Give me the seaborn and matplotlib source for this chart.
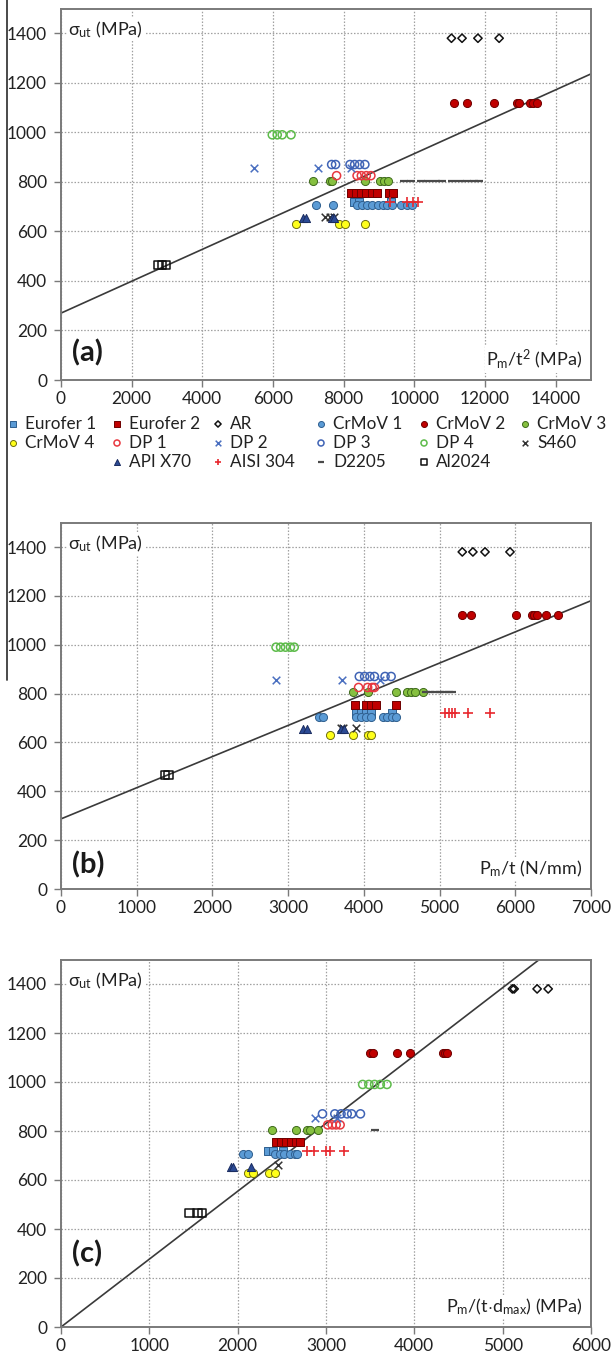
import matplotlib
matplotlib.use("Agg")
import numpy as np
import matplotlib.pyplot as plt
import seaborn as sns

# ---------------------------------------------------------------- data
materials = ["Eurofer 1", "Eurofer 2", "AR", "CrMoV 1", "CrMoV 2", "CrMoV 3",
             "CrMoV 4", "DP 1", "DP 2", "DP 3", "DP 4", "S460",
             "API X70", "AISI 304", "D2205", "Al2024"]
# ultimate tensile strength of each material (MPa)
uts = [720, 755, 1380, 705, 1120, 805, 630, 825, 855, 870, 990, 660, 655, 720, 805, 465]

# (a) Pm / t^2 (MPa)
a_eurofer1 = [8280, 8430, 9330]
a_eurofer2 = [8220, 8360, 8500, 8640, 8790, 8930, 9290, 9410]
a_ar = [11050, 11350, 11800, 12400]
a_crmov1 = [7220, 7700, 8390, 8530, 8670, 8810, 8960, 9100, 9240, 9380, 9620, 9790, 9930]
a_crmov2 = [11130, 11500, 12260, 12900, 12960, 13260, 13360, 13470]
a_crmov3 = [7120, 7600, 7680, 8600, 9030, 9130, 9250]
a_crmov4 = [6660, 7880, 8030, 8590]
a_dp1 = [7800, 8380, 8500, 8640, 8770]
a_dp2 = [5450, 7270, 8200]
a_dp3 = [7660, 7770, 8180, 8310, 8450, 8600]
a_dp4 = [5980, 6120, 6260, 6510]
a_s460 = [7470, 7620, 7740]
a_apix70 = [6840, 6920, 7680, 7740]
a_aisi304 = [9300, 9800, 9950, 10100]
a_d2205 = [9700, 9900, 10200, 10400, 10600, 10780, 11080, 11280, 11480, 11700, 11830]
a_al2024 = [2760, 2870, 2980]

# (b) Pm / t (N/mm)
b_eurofer1 = [3890, 3960, 4030, 4100, 4370]
b_eurofer2 = [3880, 4030, 4100, 4160, 4430]
b_ar = [5300, 5440, 5600, 5930]
b_crmov1 = [3410, 3460, 3890, 3960, 4030, 4100, 4250, 4310, 4370, 4430]
b_crmov2 = [5290, 5410, 6010, 6220, 6250, 6290, 6400, 6570]
b_crmov3 = [3860, 4060, 4420, 4570, 4620, 4680, 4780]
b_crmov4 = [3550, 3860, 4050, 4090]
b_dp1 = [3930, 4050, 4110, 4140]
b_dp2 = [2840, 3710, 4210]
b_dp3 = [3940, 4010, 4080, 4140, 4280, 4360]
b_dp4 = [2840, 2900, 2965, 3030, 3080]
b_s460 = [3700, 3730, 3900]
b_apix70 = [3200, 3250, 3700, 3740]
b_aisi304 = [5070, 5120, 5170, 5210, 5370, 5660]
b_d2205 = [4820, 4880, 4940, 5000, 5060, 5120, 5170]
b_al2024 = [1370, 1420]

# (c) Pm / (t * d_max) (MPa)
c_eurofer1 = [2340, 2400, 2510]
c_eurofer2 = [2430, 2490, 2550, 2600, 2660, 2710]
c_ar = [5110, 5130, 5390, 5515]
c_crmov1 = [2060, 2115, 2420, 2475, 2530, 2590, 2645, 2675]
c_crmov2 = [3500, 3530, 3800, 3955, 4320, 4350, 4375]
c_crmov3 = [2390, 2660, 2780, 2820, 2910]
c_crmov4 = [2115, 2170, 2360, 2420]
c_dp1 = [3020, 3070, 3115, 3160]
c_dp2 = [2880, 3130]
c_dp3 = [2960, 3100, 3170, 3240, 3290, 3390]
c_dp4 = [3415, 3485, 3550, 3615, 3690]
c_s460 = [2460]
c_apix70 = [1925, 1945, 2150]
c_aisi304 = [2780, 2860, 3000, 3045, 3200]
c_d2205 = [3550]
c_al2024 = [1455, 1545, 1600]

# linear correlations (slope, intercept)
fit_a = (0.0644, 270.0)
fit_b = (0.1276, 287.0)
fit_c = (0.2770, 0.0)

panel_a = [a_eurofer1, a_eurofer2, a_ar, a_crmov1, a_crmov2, a_crmov3, a_crmov4, a_dp1,
           a_dp2, a_dp3, a_dp4, a_s460, a_apix70, a_aisi304, a_d2205, a_al2024]
panel_b = [b_eurofer1, b_eurofer2, b_ar, b_crmov1, b_crmov2, b_crmov3, b_crmov4, b_dp1,
           b_dp2, b_dp3, b_dp4, b_s460, b_apix70, b_aisi304, b_d2205, b_al2024]
panel_c = [c_eurofer1, c_eurofer2, c_ar, c_crmov1, c_crmov2, c_crmov3, c_crmov4, c_dp1,
           c_dp2, c_dp3, c_dp4, c_s460, c_apix70, c_aisi304, c_d2205, c_al2024]

# ---------------------------------------------------------------- style
sns.set_style("ticks")
plt.rcParams["font.family"] = ["Lato", "DejaVu Sans"]
plt.rcParams["mathtext.fontset"] = "custom"
plt.rcParams["mathtext.rm"] = "Lato"
plt.rcParams["mathtext.it"] = "Lato:italic"
plt.rcParams["mathtext.bf"] = "Lato:bold"

BLUE = "#5B9BD5"
DKRED = "#C00000"
styles = {
    "Eurofer 1": dict(marker="s", s=30, color=BLUE, edgecolor="#2F5F8F", linewidth=0.7),
    "Eurofer 2": dict(marker="s", s=34, color=DKRED, edgecolor="#6E0000", linewidth=0.7),
    "AR": dict(marker="D", s=18, facecolor="none", edgecolor="#111111", linewidth=1.1),
    "CrMoV 1": dict(marker="o", s=34, color=BLUE, edgecolor="#2F5F8F", linewidth=0.7),
    "CrMoV 2": dict(marker="o", s=34, color=DKRED, edgecolor="#6E0000", linewidth=0.7),
    "CrMoV 3": dict(marker="o", s=34, color="#86C040", edgecolor="#3E6A1C", linewidth=0.7),
    "CrMoV 4": dict(marker="o", s=34, color="#FFFF1A", edgecolor="#6E6E10", linewidth=0.7),
    "DP 1": dict(marker="o", s=34, facecolor="none", edgecolor="#E8383F", linewidth=1.1),
    "DP 2": dict(marker="x", s=30, color="#4A6FC0", linewidth=1.1),
    "DP 3": dict(marker="o", s=34, facecolor="none", edgecolor="#3F63B5", linewidth=1.1),
    "DP 4": dict(marker="o", s=34, facecolor="none", edgecolor="#5DBB4A", linewidth=1.1),
    "S460": dict(marker="x", s=30, color="#333333", linewidth=1.1),
    "API X70": dict(marker="^", s=34, color="#2B4A94", edgecolor="#1A2C60", linewidth=0.7),
    "AISI 304": dict(marker="+", s=44, color="#E8282E", linewidth=1.2),
    "D2205": dict(marker="_", s=28, color="#4A4A4A", linewidth=1.6),
    "Al2024": dict(marker="s", s=34, facecolor="none", edgecolor="#111111", linewidth=1.1),
}

W, H = 611, 1356
fig = plt.figure(figsize=(W / 100, H / 100), dpi=100)

def px_axes(left, right, top, bottom):
    return fig.add_axes([left / W, 1 - bottom / H, (right - left) / W, (bottom - top) / H])

FRAME = "#7A7A7A"
TXT = "#222222"

def draw_panel(ax, xs_list, fit, xmax, xstep, tag, xlabel, tag_y):
    ax.set_axisbelow(True)
    for name, y, xs in zip(materials, uts, xs_list):
        sns.scatterplot(x=xs, y=[y] * len(xs), ax=ax, legend=False, zorder=3,
                        **styles[name])
    slope, icpt = fit
    ax.axline((0, icpt), slope=slope, color="#3A3A3A", linewidth=1.2, zorder=2)
    ax.set_xlim(0, xmax)
    ax.set_ylim(0, 1500)
    ax.set_xticks(np.arange(0, xmax + 1, xstep))
    ax.set_yticks(np.arange(0, 1401, 200))
    ax.grid(True, color="#A0A0A0", linestyle=(0, (1.2, 1.4)), linewidth=0.9)
    for sp in ax.spines.values():
        sp.set_color(FRAME)
        sp.set_linewidth(1.4)
    ax.tick_params(direction="out", length=5, width=1.0, color=FRAME,
                   labelsize=12.5, labelcolor=TXT)
    ax.tick_params(axis="y", pad=5)
    ax.tick_params(axis="x", pad=3)
    ax.set_xlabel("")
    ax.set_ylabel("")
    box = dict(facecolor="white", edgecolor="none", pad=1.0)
    ax.text(0.014, 0.943, r"σ$_{\mathrm{ut}}$ (MPa)", transform=ax.transAxes,
            fontsize=13, color=TXT, ha="left", va="center", bbox=box, zorder=4)
    ax.text(0.984, 0.055, xlabel, transform=ax.transAxes, fontsize=13,
            color=TXT, ha="right", va="center", bbox=box, zorder=4)
    ax.text(0.020, tag_y, tag, transform=ax.transAxes, fontsize=21,
            fontweight="bold", color="#1A1A1A", ha="left", va="center", zorder=4)

ax_a = px_axes(61, 591, 8.5, 380)
draw_panel(ax_a, panel_a, fit_a, 15000, 2000, "(a)",
           r"P$_{\mathrm{m}}$/t$^{\mathrm{2}}$ (MPa)", 0.073)
ax_b = px_axes(61, 591, 522.6, 889)
draw_panel(ax_b, panel_b, fit_b, 7000, 1000, "(b)",
           r"P$_{\mathrm{m}}$/t (N/mm)", 0.066)
ax_c = px_axes(61, 591, 959.5, 1327)
draw_panel(ax_c, panel_c, fit_c, 6000, 1000, "(c)",
           r"P$_{\mathrm{m}}$/(t$\cdot$d$_{\mathrm{max}}$) (MPa)", 0.20)

# ---------------------------------------------------------------- legend (pixel overlay)
ov = fig.add_axes([0, 0, 1, 1])
ov.set_xlim(0, W)
ov.set_ylim(H, 0)
ov.axis("off")
ov.patch.set_visible(False)

# page rule along the left edge
ov.plot([7, 7], [0, 680], color="#3A3A3A", linewidth=1.3)

col_x = [13, 117, 218, 321, 424, 525]
row_y = [424, 443, 462]
slots = [(0, 0), (0, 1), (0, 2), (0, 3), (0, 4), (0, 5),
         (1, 0), (1, 1), (1, 2), (1, 3), (1, 4), (1, 5),
         (2, 1), (2, 2), (2, 3), (2, 4)]
for name, (r, c) in zip(materials, slots):
    st = dict(styles[name])
    st["s"] = st["s"] * 0.55
    ov.scatter([col_x[c]], [row_y[r]], **st)
    ov.text(col_x[c] + 12, row_y[r], name, fontsize=12.3, color=TXT,
            ha="left", va="center")

fig.savefig("out.png", dpi=100)
